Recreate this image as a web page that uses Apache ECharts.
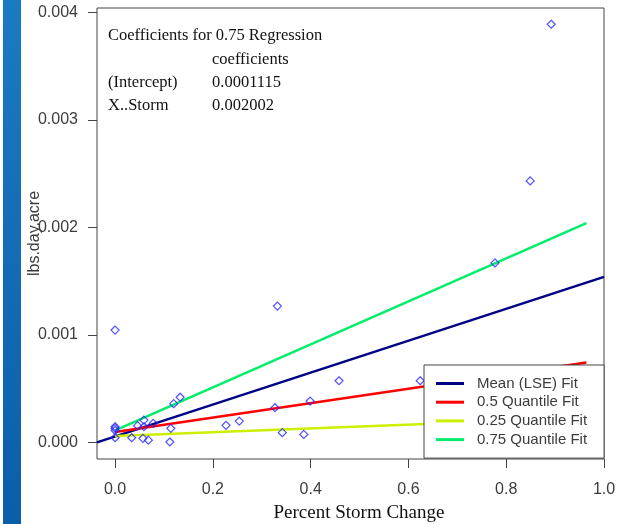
<!DOCTYPE html>
<html>
<head>
<meta charset="utf-8">
<script src="https://cdn.jsdelivr.net/npm/echarts@6/dist/echarts.min.js"></script>
<style>
  html, body { margin: 0; padding: 0; background: #fff; }
  #chart { width: 619px; height: 524px; }
</style>
</head>
<body>
<div id="chart"></div>
<script>
// observed points (Percent Storm Change vs lbs.day.acre)
var pointX = [0, 0, 0, 0, 0, 0.034, 0.046, 0.057, 0.059, 0.059, 0.068, 0.078,
              0.112, 0.114, 0.12, 0.133, 0.227, 0.254, 0.327, 0.332, 0.342, 0.386,
              0.399, 0.458, 0.624, 0.777, 0.849, 0.892];
var pointY = [0.001045, 0.000145, 0.00013, 0.00011, 0.000043, 0.000043, 0.000155, 0.000037,
              0.000145, 0.000207, 0.00002, 0.000177, 0.000003, 0.00013, 0.00036, 0.00042,
              0.000158, 0.000198, 0.000322, 0.001268, 0.00009, 0.000074, 0.000384, 0.000573,
              0.000573, 0.00167, 0.002433, 0.003891];

// fitted lines, start / end of each
var fitNames = ['Mean (LSE) Fit', '0.5 Quantile Fit', '0.25 Quantile Fit', '0.75 Quantile Fit'];
var fitX0 = [-0.037, 0, 0, 0];
var fitX1 = [1.0, 0.964, 0.964, 0.964];
var fitY0 = [0.0, 0.0000966, 0.00006, 0.0001115];
var fitY1 = [0.00154, 0.000742, 0.000229, 0.002041];
var fitColors = ['#000086', '#ff0000', '#ccf000', '#00ee6a'];

var xTicks = [0, 0.2, 0.4, 0.6, 0.8, 1.0];
var yTicks = [0, 0.001, 0.002, 0.003, 0.004];

// coefficient table shown in the corner
var coefTitle = 'Coefficients for 0.75 Regression';
var coefHeader = 'coefficients';
var coefTerms = ['(Intercept)', 'X..Storm'];
var coefValues = ['0.0001115', '0.002002'];

var chart = echarts.init(document.getElementById('chart'), null, { renderer: 'canvas' });

var sansFont = '"Liberation Sans", Arial, sans-serif';
var serifFont = '"Liberation Serif", "Times New Roman", serif';

var series = [{
    name: 'points',
    type: 'scatter',
    symbol: 'diamond',
    symbolSize: 8,
    itemStyle: { color: 'rgba(0,0,0,0)', borderColor: '#2424ff', borderWidth: 1.2 },
    data: pointX.map(function (x, i) { return [x, pointY[i]]; }),
    z: 3
}];
fitNames.forEach(function (name, i) {
    series.push({
        name: name,
        type: 'line',
        showSymbol: false,
        symbol: 'none',
        lineStyle: { color: fitColors[i], width: 2.5 },
        itemStyle: { color: fitColors[i] },
        data: [[fitX0[i], fitY0[i]], [fitX1[i], fitY1[i]]],
        z: 2
    });
});

var coefFont = '16.5px ' + serifFont;
var graphics = [
    {
        type: 'rect',
        shape: { x: 3, y: 0, width: 18, height: 524 },
        style: {
            fill: new echarts.graphic.LinearGradient(0, 0, 0, 1, [
                { offset: 0, color: '#1a7ac2' },
                { offset: 1, color: '#0b5ea8' }
            ])
        },
        silent: true
    },
    {
        type: 'text', left: 108, top: 27,
        style: { text: coefTitle, font: coefFont, fill: '#111' }
    },
    {
        type: 'text', left: 212, top: 51,
        style: { text: coefHeader, font: coefFont, fill: '#111' }
    }
];
coefTerms.forEach(function (t, i) {
    graphics.push({
        type: 'text', left: 108, top: 74 + i * 23.3,
        style: { text: t, font: coefFont, fill: '#111' }
    });
    graphics.push({
        type: 'text', left: 212, top: 74 + i * 23.3,
        style: { text: coefValues[i], font: coefFont, fill: '#111' }
    });
});

var option = {
    animation: false,
    backgroundColor: '#fff',
    grid: {
        left: 97, top: 8, width: 507, height: 451,
        outerBoundsMode: 'none',
        containLabel: false,
        show: true, borderColor: '#444', borderWidth: 1, backgroundColor: 'transparent'
    },
    xAxis: {
        type: 'value',
        min: -0.037,
        max: 1.0,
        splitLine: { show: false },
        axisLine: { show: false, onZero: false },
        axisTick: { show: true, length: 9, customValues: xTicks, lineStyle: { color: '#444' } },
        axisLabel: {
            customValues: xTicks, margin: 23,
            color: '#3c3c3c', fontFamily: sansFont, fontSize: 16,
            formatter: function (v) { return v.toFixed(1); }
        },
        name: 'Percent Storm Change',
        nameLocation: 'middle',
        nameGap: 45,
        nameMoveOverlap: false,
        nameTextStyle: { fontFamily: serifFont, fontSize: 19, color: '#111', padding: [0, 0, 0, 17] }
    },
    yAxis: {
        type: 'value',
        min: -0.000155,
        max: 0.004042,
        splitLine: { show: false },
        axisLine: { show: false, onZero: false },
        axisTick: { show: true, length: 9, customValues: yTicks, lineStyle: { color: '#444' } },
        axisLabel: {
            customValues: yTicks, margin: 19,
            color: '#3c3c3c', fontFamily: sansFont, fontSize: 16,
            formatter: function (v) { return v.toFixed(3); }
        },
        name: 'lbs.day.acre',
        nameLocation: 'middle',
        nameGap: 54,
        nameRotate: 90,
        nameMoveOverlap: false,
        nameTextStyle: { fontFamily: sansFont, fontSize: 16, color: '#3c3c3c' }
    },
    legend: {
        data: fitNames.map(function (n) { return { name: n, icon: 'rect' }; }),
        orient: 'vertical',
        left: 424,
        top: 365,
        padding: [11, 17, 11, 12],
        itemWidth: 28,
        itemHeight: 3,
        itemGap: 3.7,
        backgroundColor: '#fff',
        borderColor: '#444',
        borderWidth: 1,
        borderRadius: 0,
        selectedMode: false,
        textStyle: {
            fontFamily: sansFont, fontSize: 15, color: '#3c3c3c',
            lineHeight: 15, padding: [0, 0, 0, 8]
        }
    },
    graphic: graphics,
    series: series
};
chart.setOption(option);
</script>
</body>
</html>
